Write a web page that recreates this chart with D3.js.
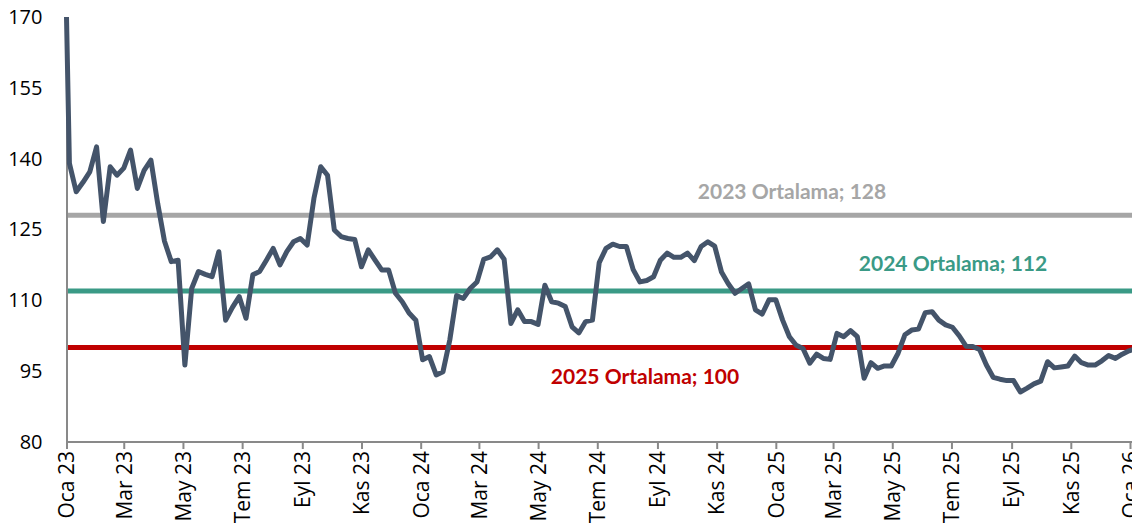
<!DOCTYPE html>
<html>
<head>
<meta charset="utf-8">
<script src="https://cdn.jsdelivr.net/npm/d3@7"></script>
<style>
  body { margin: 0; background: #fff; }
  svg { display: block; }
</style>
</head>
<body>
<div id="chart"></div>
<script>
// first print on 1 Jan, then weekly readings from 4 Jan 2023
const firstDate = new Date(2023, 0, 1)
const firstValue = 170
const weeklyStart = new Date(2023, 0, 4)
const weeklyValues = [
  139.0, 133.0, 135.0, 137.2, 142.5, 126.7, 138.3, 136.5, 138.0, 141.8,
  133.7, 137.5, 139.7, 130.5, 122.5, 118.2, 118.5, 96.3, 112.5, 116.1,
  115.5, 115.0, 120.3, 105.8, 108.5, 110.8, 106.2, 115.4, 116.1, 118.5,
  121.0, 117.5, 120.3, 122.4, 123.1, 121.7, 131.6, 138.3, 136.5, 124.9,
  123.5, 123.1, 122.9, 117.1, 120.7, 118.5, 116.4, 116.4, 111.5, 109.7,
  107.3, 105.8, 97.4, 98.1, 94.2, 94.9, 101.6, 111.0, 110.4, 112.5,
  113.9, 118.7, 119.2, 120.7, 118.7, 105.1, 108.0, 105.5, 105.5, 104.9,
  113.2, 109.7, 109.4, 108.7, 104.4, 103.1, 105.5, 105.8, 118.0, 121.0,
  121.9, 121.4, 121.4, 116.5, 113.9, 114.2, 115.0, 118.5, 120.0, 119.1,
  119.1, 120.0, 118.4, 121.4, 122.4, 121.5, 116.0, 113.5, 111.5, 112.5,
  113.5, 108.0, 107.1, 110.1, 110.1, 105.8, 102.3, 100.5, 99.8, 96.7,
  98.6, 97.7, 97.5, 103.0, 102.3, 103.6, 102.3, 93.5, 96.8, 95.6,
  96.1, 96.1, 98.8, 102.7, 103.7, 103.9, 107.4, 107.6, 105.8, 104.8,
  104.3, 102.5, 100.3, 100.2, 99.6, 96.3, 93.7, 93.3, 93.0, 93.0,
  90.6, 91.4, 92.3, 92.9, 97.0, 95.7, 95.9, 96.1, 98.2, 96.8,
  96.3, 96.3, 97.2, 98.3, 97.7, 98.6, 99.3, 99.8
]

const yTicks = [80, 95, 110, 125, 140, 155, 170]
const monthNames = ['Oca', 'Şub', 'Mar', 'Nis', 'May', 'Haz', 'Tem', 'Ağu', 'Eyl', 'Eki', 'Kas', 'Ara']

const avgYears = ['2023', '2024', '2025']
const avgValues = [128, 112, 100]
const avgColors = ['#A6A6A6', '#3A9A86', '#C00000']
// label centre (px) and gap above line
const avgLabelX = [792, 953, 645]
const avgLabelDy = [-16, -20, 36]

const data = [{date: firstDate, value: firstValue}].concat(
  weeklyValues.map((v, i) => ({date: d3.timeDay.offset(weeklyStart, 7 * i), value: v}))
)

const width = 1132, height = 530
const margin = {left: 66.5, top: 17, bottom: 88}

let svg = d3.select('#chart')
  .append('svg')
  .attr('width', width)
  .attr('height', height)

let x = d3.scaleTime()
  .domain([new Date(2023, 0, 1), new Date(2026, 0, 1)])
  .range([margin.left, 1130])

let y = d3.scaleLinear()
  .domain([80, 170])
  .range([height - margin.bottom, margin.top])

// horizontal average lines
svg.append('g').selectAll('line')
  .data(avgValues)
  .enter()
  .append('line')
  .attr('x1', margin.left)
  .attr('x2', width)
  .attr('y1', d => y(d))
  .attr('y2', d => y(d))
  .attr('stroke', (d, i) => avgColors[i])
  .attr('stroke-width', 5)

// axes
let yAxis = svg.append('g')
  .attr('transform', `translate(${margin.left},0)`)
  .call(d3.axisLeft(y).tickValues(yTicks).tickSize(0).tickPadding(24))
yAxis.select('.domain').attr('stroke', '#898989').attr('stroke-width', 2)
yAxis.selectAll('text')
  .style('font-family', '"Open Sans", sans-serif')
  .style('font-size', '20px')
  .attr('fill', '#000')

let xAxis = svg.append('g')
  .attr('transform', `translate(0,${y(80)})`)
  .call(d3.axisBottom(x)
    .ticks(d3.timeMonth.every(2))
    .tickFormat(d => monthNames[d.getMonth()] + ' ' + String(d.getFullYear()).slice(2))
    .tickSizeOuter(0)
    .tickSize(7))
xAxis.select('.domain').attr('stroke', '#898989').attr('stroke-width', 2)
  .attr('d', `M${margin.left},0H${width}`)
xAxis.selectAll('line').attr('stroke', '#898989').attr('stroke-width', 2)
xAxis.selectAll('text')
  .style('font-family', '"Open Sans", sans-serif')
  .style('font-size', '21px')
  .attr('fill', '#000')
  .attr('text-anchor', 'end')
  .attr('transform', 'rotate(-90)')
  .attr('x', -9)
  .attr('y', 0)
  .attr('dy', '0.35em')

// price line
let line = d3.line()
  .x(d => x(d.date))
  .y(d => y(d.value))

svg.append('path')
  .datum(data)
  .attr('d', line)
  .attr('fill', 'none')
  .attr('stroke', '#44546A')
  .attr('stroke-width', 5)
  .attr('stroke-linejoin', 'round')

// average labels
svg.append('g').selectAll('text')
  .data(avgValues)
  .enter()
  .append('text')
  .attr('x', (d, i) => avgLabelX[i])
  .attr('y', (d, i) => y(d) + avgLabelDy[i])
  .attr('text-anchor', 'middle')
  .attr('fill', (d, i) => avgColors[i])
  .style('font-family', 'Lato, sans-serif')
  .style('font-weight', 'bold')
  .style('font-size', '21px')
  .text((d, i) => `${avgYears[i]} Ortalama; ${d}`)
</script>
</body>
</html>
